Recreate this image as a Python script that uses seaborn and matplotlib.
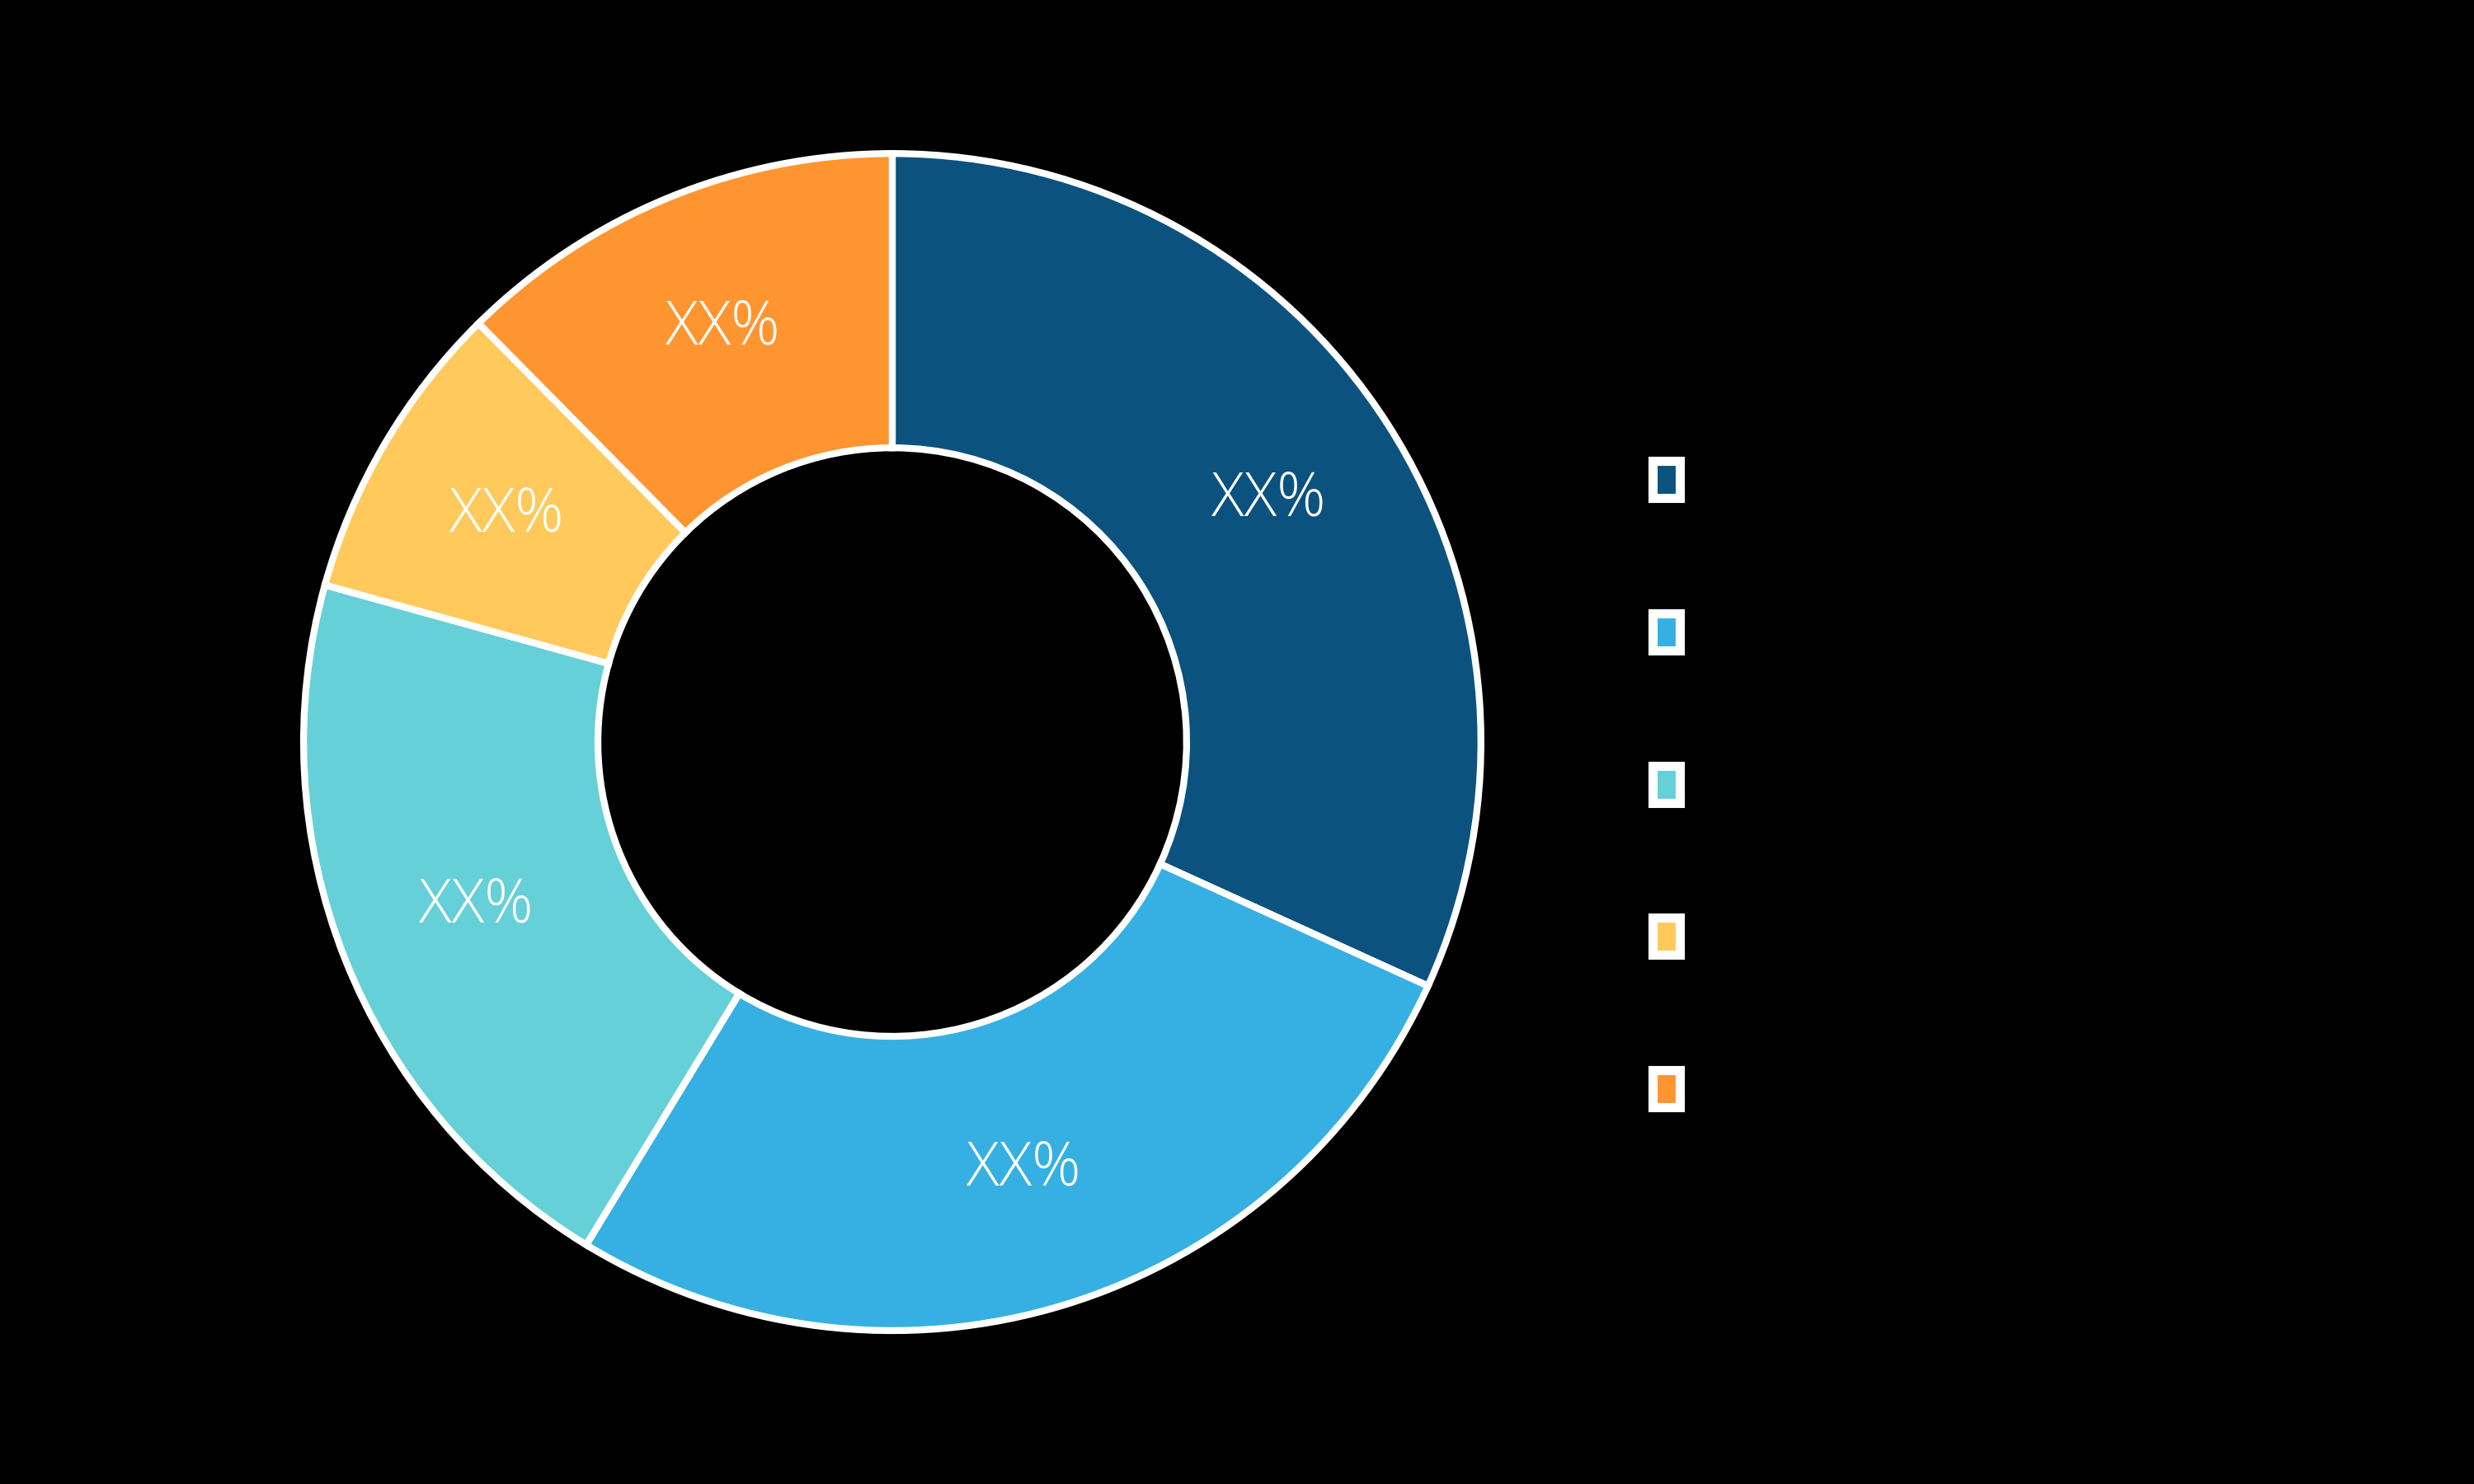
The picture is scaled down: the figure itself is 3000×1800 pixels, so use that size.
import matplotlib
matplotlib.use("Agg")
import matplotlib.pyplot as plt
import matplotlib.patches as mpatches
import seaborn as sns

regions = ["North America", "Europe", "APAC", "MEA", "SAM"]
shares = [31.8, 26.9, 20.6, 8.3, 12.4]
colors = ["#0B527F", "#36B0E2", "#66D0D8", "#FFC95C", "#FF9531"]
center_label = "2019"
slice_text = "XX%"

sns.set_theme(style="white")
plt.rcParams["font.family"] = ["Open Sans", "DejaVu Sans"]

fig = plt.figure(figsize=(30, 18), dpi=100, facecolor="black")
ax = fig.add_axes([0.1203, 0.0994, 0.4807, 0.8011])
ax.set_facecolor("black")

wedges, _, autotexts = ax.pie(
    shares, colors=colors, startangle=90, counterclock=False,
    radius=1.0, autopct=lambda p: slice_text, pctdistance=0.76,
    wedgeprops=dict(width=0.5, edgecolor="white", linewidth=6),
    textprops=dict(color="white", fontsize=53, fontweight="light"),
)
ax.set_xlim(-1.01, 1.01)
ax.set_ylim(-1.01, 1.01)
ax.set_aspect("equal")
ax.text(0, 0, center_label, ha="center", va="center", fontsize=62,
        color="black", fontweight="light")

handles = [
    mpatches.Patch(facecolor=c, edgecolor="white", linewidth=8, joinstyle="round")
    for c in colors
]
fig.legend(handles, regions, loc="center left", bbox_to_anchor=(0.647, 0.468),
           frameon=False, labelcolor="black",
           prop=dict(size=50, weight="light"),
           labelspacing=1.68, handletextpad=0.45, handlelength=0.48,
           handleheight=0.62)

fig.savefig("out.png", dpi=100, facecolor="black")
